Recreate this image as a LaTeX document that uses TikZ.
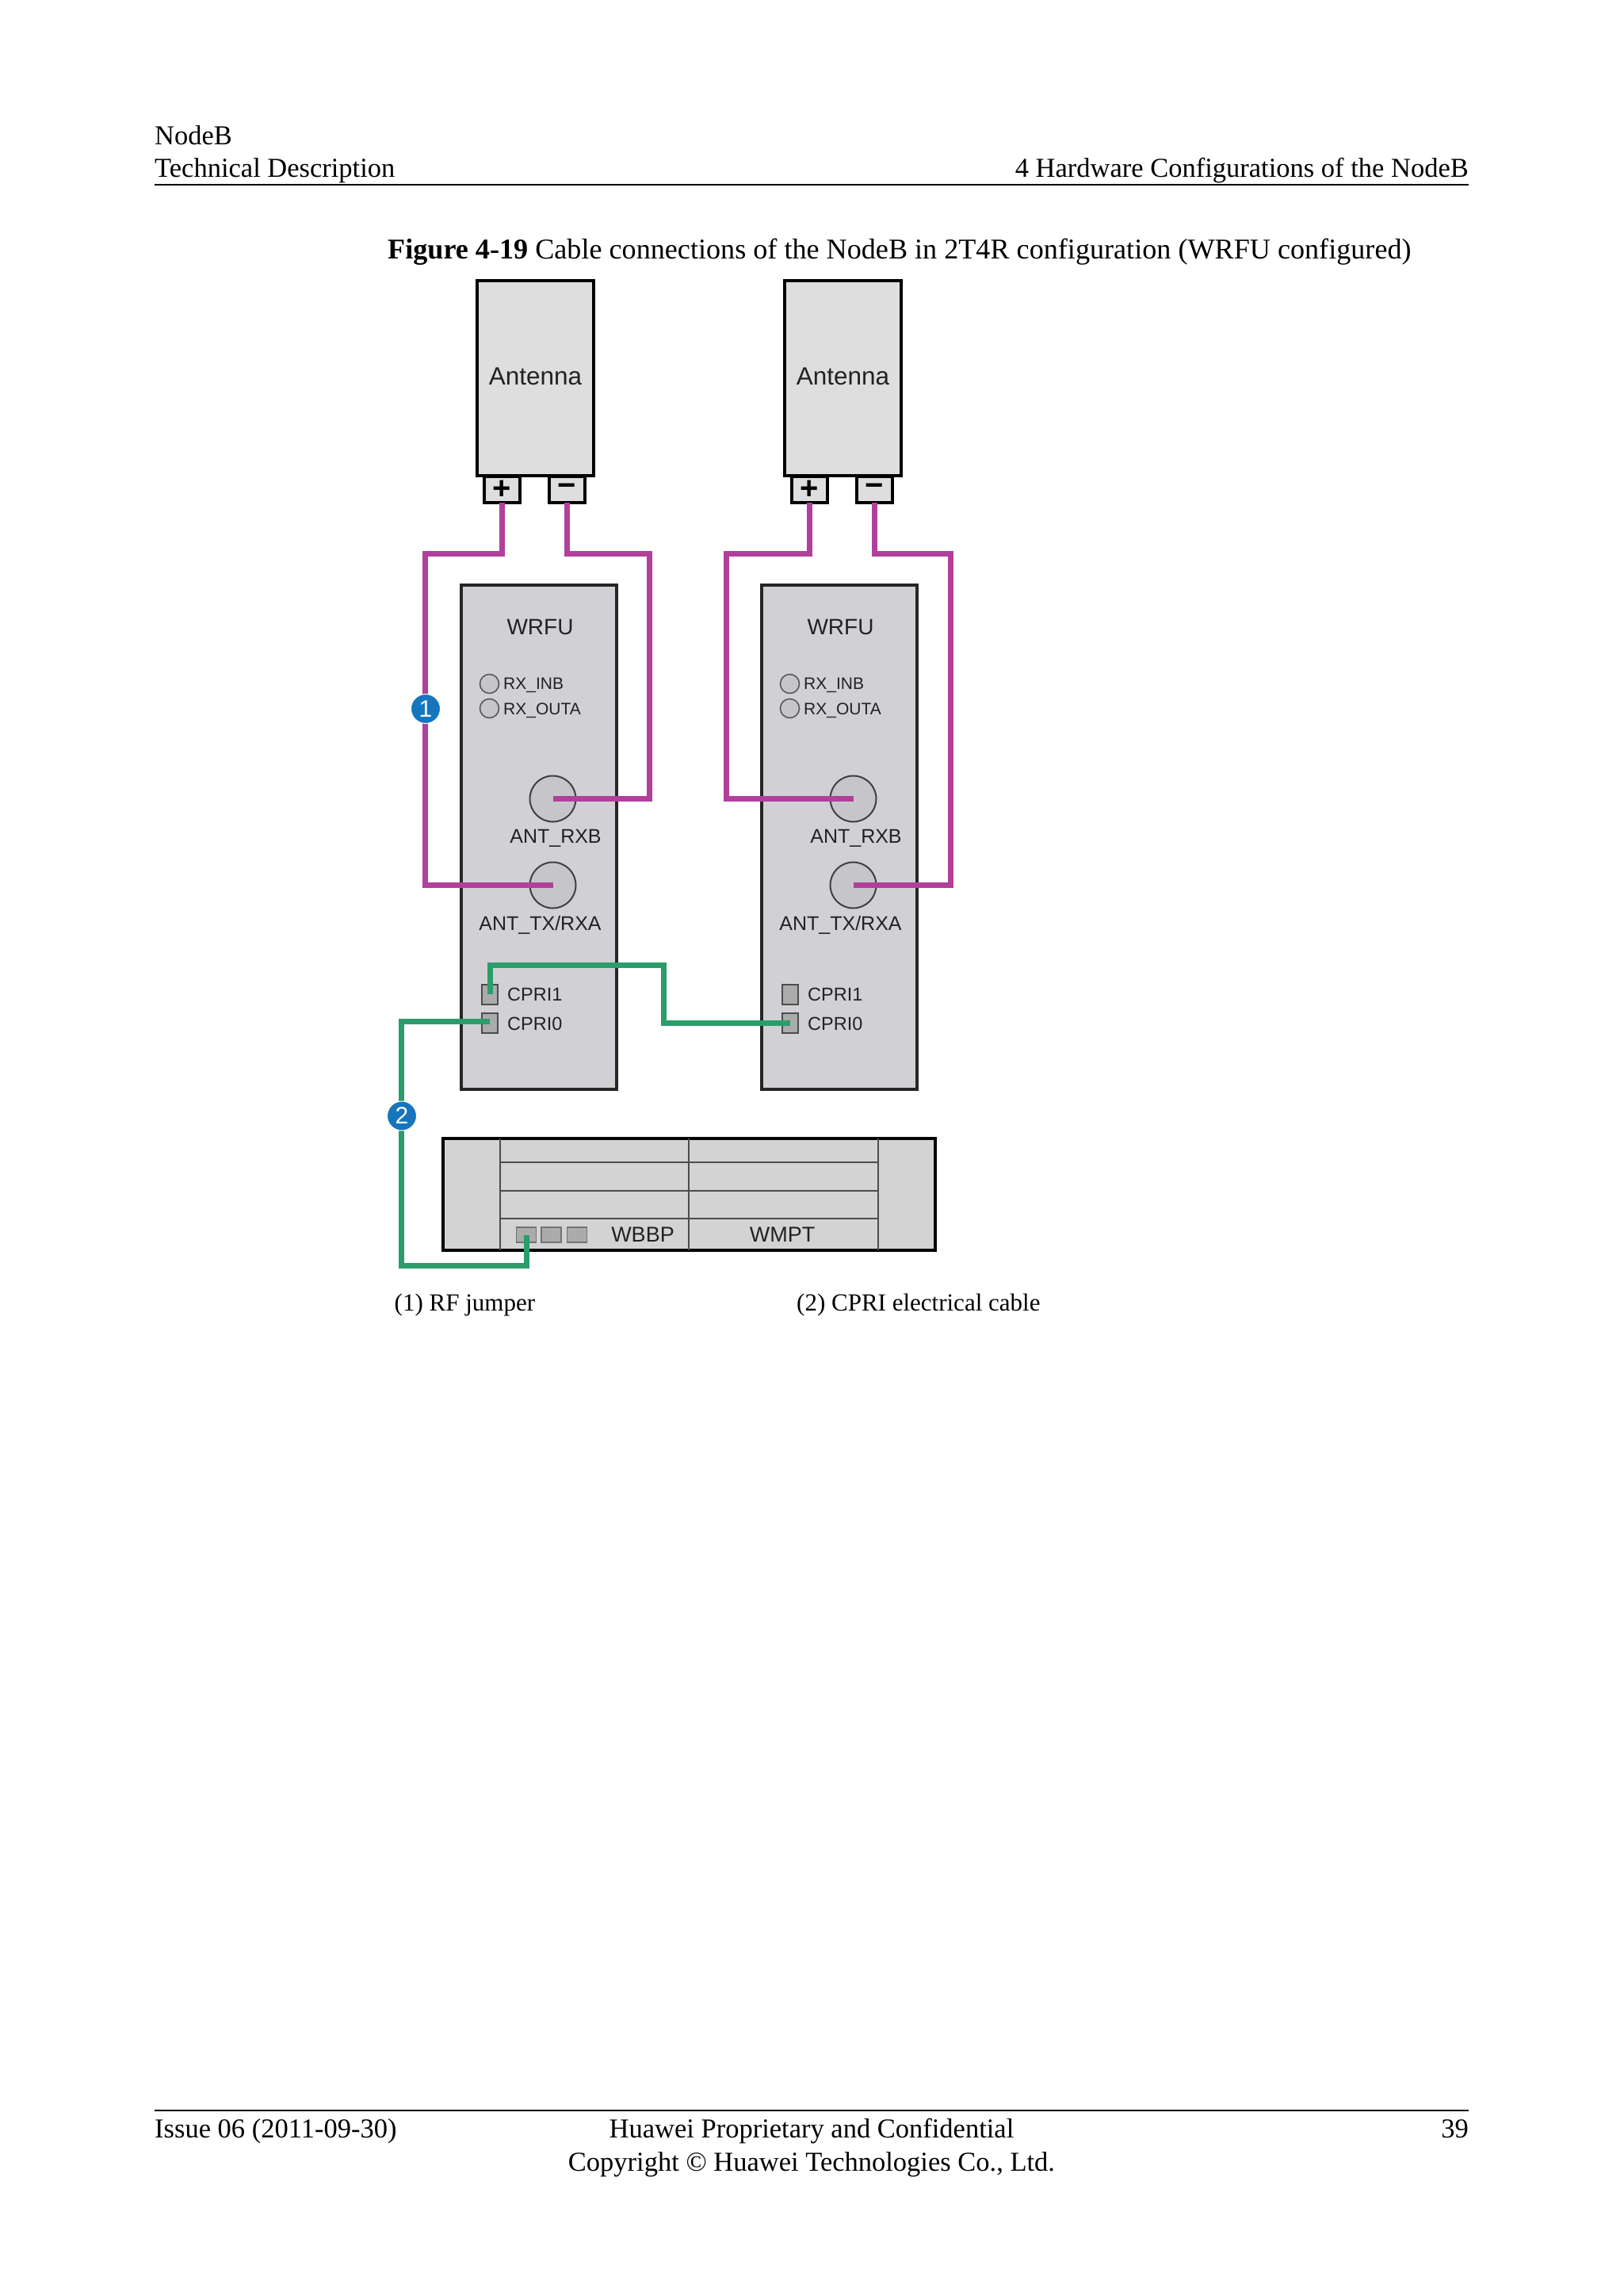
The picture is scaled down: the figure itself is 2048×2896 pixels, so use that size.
\documentclass[tikz,border=0pt]{standalone}
\usepackage{fontspec}
\setmainfont{Liberation Serif}
\newfontfamily\labelfont{Liberation Sans}
\definecolor{jumper}{HTML}{B2409B}
\definecolor{cprigreen}{HTML}{2A9D6B}
\definecolor{badgeblue}{HTML}{1675BD}
\definecolor{antfill}{HTML}{DEDEDE}
\definecolor{unitfill}{HTML}{D1D1D5}
\definecolor{chassisfill}{HTML}{D3D3D3}
\definecolor{connfill}{HTML}{C6C6CA}
\definecolor{portfill}{HTML}{ABABAB}
\definecolor{inktext}{HTML}{222222}
\newcommand{\fs}[1]{\fontsize{#1}{#1}\selectfont}
\tikzset{
  x=1pt,y=-1pt,
  boxed/.style={draw=black,line width=4pt,inner sep=0pt,outer sep=0pt,rectangle},
  antbox/.style={boxed,fill=antfill,minimum width=147pt,minimum height=246pt},
  polebox/.style={boxed,fill=antfill,minimum width=45pt,minimum height=33pt,font=\labelfont\bfseries\fs{40}},
  unitbox/.style={boxed,draw=black!85,fill=unitfill,minimum width=196pt,minimum height=636pt},
  led/.style={circle,draw=black!65,line width=1.6pt,fill=connfill,minimum size=24pt,inner sep=0pt},
  antport/.style={circle,draw=black!75,line width=2pt,fill=connfill,minimum size=58pt,inner sep=0pt},
  cpriport/.style={rectangle,draw=black!70,line width=2pt,fill=portfill,minimum width=20pt,minimum height=25pt,inner sep=0pt},
  bbport/.style={rectangle,draw=black!55,line width=1.8pt,fill=portfill,minimum width=25pt,minimum height=19.5pt,inner sep=0pt},
  lbl/.style={inner sep=0pt,text=inktext,font=\labelfont\fs{#1}},
  doc/.style={inner sep=0pt,text=black,font=\fs{34.5}},
  rf/.style={draw=jumper,line width=7pt,line join=miter},
  cpri/.style={draw=cprigreen,line width=7pt,line join=miter},
  badge/.style={circle,fill=badgeblue,draw=white,line width=1pt,minimum size=37pt,inner sep=0pt,text=white,font=\labelfont\fs{30}},
  rule/.style={draw=black,line width=1.6pt},
  slot/.style={draw=black!70,line width=2pt}
}
\newcommand{\antenna}[2]{% prefix, x centre
  \node[antbox] (#1) at (#2,477) {};
  \node[lbl=31.5,anchor=base] (#1txt) at (#2,485) {Antenna};
}
\newcommand{\wrfu}[1]{%
  \node[unitbox] (#1) at (680,1055.5) {};
  \node[lbl=28,anchor=base] (#1name) at (681.5,800) {WRFU};
  \node[led] (#1inb) at (617.5,862.5) {};
  \node[led] (#1outa) at (617.5,893.5) {};
  \node[lbl=21,anchor=base west] (#1inbt) at (635,869) {RX\_INB};
  \node[lbl=21,anchor=base west] (#1outat) at (635,901.5) {RX\_OUTA};
  \node[antport] (#1rxb) at (697.5,1007.5) {};
  \node[antport] (#1tx) at (697.5,1116.5) {};
  \node[lbl=25,anchor=base] (#1rxbt) at (701,1063) {ANT\_RXB};
  \node[lbl=25,anchor=base] (#1txt) at (681.5,1173) {ANT\_TX/RXA};
  \node[cpriport] (#1cone) at (618,1254) {};
  \node[cpriport] (#1czero) at (618,1290.5) {};
  \node[lbl=23.5,anchor=base west] (#1conet) at (640,1262.5) {CPRI1};
  \node[lbl=23.5,anchor=base west] (#1czerot) at (640,1299.5) {CPRI0};
}
\begin{document}
\begin{tikzpicture}
\useasboundingbox[fill=white] (0,0) rectangle (2048,2896);
% header
\node[doc,anchor=base west] (h1) at (195,182) {NodeB};
\node[doc,anchor=base west] (h2) at (195,223.5) {Technical Description};
\node[doc,anchor=base east] (h3) at (1853,223.5) {4 Hardware Configurations of the NodeB};
\draw[rule] (195,233) -- (1853,233);
\node[doc,anchor=base west,font=\fs{36.15}] (cap) at (489,326.5) {\textbf{Figure 4-19} Cable connections of the NodeB in 2T4R configuration (WRFU configured)};
% antennas
\antenna{a}{675.5}
\antenna{b}{1063.5}
\node[polebox] (ap) at (633,617.5) {+};
\node[polebox] (am) at (715,617.5) {\raisebox{-4pt}{\textminus}};
\node[polebox] (bp) at (1021.5,617.5) {+};
\node[polebox] (bm) at (1103,617.5) {\raisebox{-4pt}{\textminus}};
% WRFU units
\wrfu{u}
\begin{scope}[xshift=379pt]
\wrfu{v}
\end{scope}
% chassis
\node[boxed,fill=chassisfill,minimum width=621pt,minimum height=141pt] (ch) at (869,1506.5) {};
\draw[slot] (631,1436) -- (631,1577) (869,1436) -- (869,1577) (1108,1436) -- (1108,1577);
\draw[slot] (631,1466) -- (1108,1466) (631,1502) -- (1108,1502) (631,1537) -- (1108,1537);
\node[bbport] (s1) at (664,1557.5) {};
\node[bbport] (s2) at (695.5,1557.5) {};
\node[bbport] (s3) at (728,1557.5) {};
\node[lbl=27,anchor=base] (wbbp) at (811,1566.5) {WBBP};
\node[lbl=27,anchor=base] (wmpt) at (987,1566.5) {WMPT};
% bends
\coordinate (k1) at (536.5,698); \coordinate (k2) at (819.5,698);
\coordinate (k3) at (916.5,698); \coordinate (k4) at (1199.5,698);
\coordinate (g1) at (837,1217); \coordinate (g2) at (506.5,1596);
\coordinate (g3) at (618,1288.5);
% RF jumpers
\draw[rf] (ap.south) |- (k1) |- (utx.center);
\draw[rf] (am.south) |- (k2) |- (urxb.center);
\draw[rf] (bp.south) |- (k3) |- (vrxb.center);
\draw[rf] (bm.south) |- (k4) |- (vtx.center);
% CPRI cables
\draw[cpri] (ucone.center) |- (g1) |- (vczero.center);
\draw[cpri] (g3) -| (g2) -| (s1.center);
% badges
\node[badge] (n1) at (537,894) {1};
\node[badge] (n2) at (507,1407.5) {2};
% legend
\node[doc,anchor=base west,font=\fs{31}] (l1) at (497.5,1653) {(1) RF jumper};
\node[doc,anchor=base west,font=\fs{31}] (l2) at (1005,1653) {(2) CPRI electrical cable};
% footer
\draw[rule] (195,2662) -- (1853,2662);
\node[doc,anchor=base west] (f1) at (195,2696) {Issue 06 (2011-09-30)};
\node[doc,anchor=base] (f2) at (1024,2696) {Huawei Proprietary and Confidential};
\node[doc,anchor=base east] (f3) at (1853,2696) {39};
\node[doc,anchor=base] (f4) at (1024,2738) {Copyright © Huawei Technologies Co., Ltd.};
\end{tikzpicture}
\end{document}
